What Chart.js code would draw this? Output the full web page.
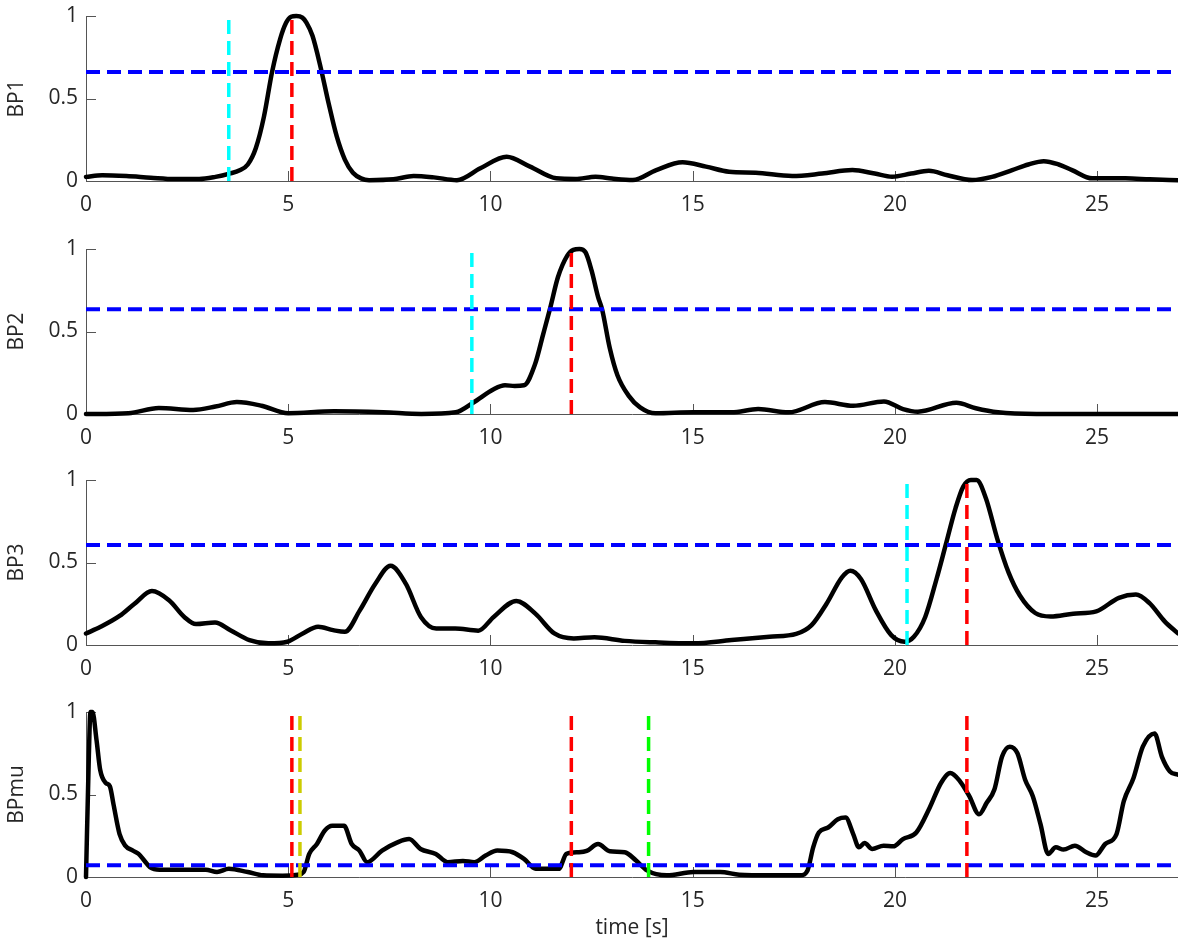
<!DOCTYPE html>
<html>
<head>
<meta charset="utf-8">
<script src="https://cdn.jsdelivr.net/npm/chart.js@4.4.1/dist/chart.umd.min.js"></script>
<style>
html,body{margin:0;padding:0;background:#fff;width:1178px;height:942px;overflow:hidden}
.p{position:absolute;left:0;width:1178px}
</style>
</head>
<body>
<div class="p" style="top:0;height:232px"><canvas id="c0"></canvas></div>
<div class="p" style="top:233px;height:232px"><canvas id="c1"></canvas></div>
<div class="p" style="top:464px;height:232px"><canvas id="c2"></canvas></div>
<div class="p" style="top:696px;height:246px"><canvas id="c3"></canvas></div>
<script>
// ---------- data ----------
const xTickValues = [0, 5, 10, 15, 20, 25];
const yTickValues = [0, 0.5, 1];
const xMin = 0, xMax = 27;
const panelLabels = ['BP1', 'BP2', 'BP3', 'BPmu'];
const xAxisTitle = 'time [s]';

const bp1Time   = [0,0.4,1.0,1.6,2.2,2.8,3.2,3.55,3.8,4.0,4.2,4.4,4.6,4.8,4.95,5.07,5.2,5.35,5.45,5.6,5.8,6.0,6.2,6.4,6.6,6.8,7.0,7.6,8.1,8.6,9.17,9.75,10.4,10.98,11.63,12.1,12.6,13.0,13.52,14.1,14.75,15.33,15.9,16.56,17.46,18.2,18.95,19.5,19.93,20.4,20.84,21.3,21.91,22.4,22.9,23.3,23.68,24.05,24.38,24.88,25.7,26.3,27];
const bp1Values = [0.025,0.035,0.03,0.02,0.012,0.012,0.025,0.045,0.065,0.1,0.2,0.39,0.66,0.86,0.96,0.995,1.0,0.99,0.96,0.88,0.69,0.47,0.27,0.13,0.05,0.016,0.005,0.01,0.03,0.022,0.005,0.077,0.147,0.087,0.016,0.012,0.026,0.015,0.006,0.066,0.113,0.087,0.056,0.05,0.03,0.045,0.066,0.045,0.026,0.045,0.062,0.035,0.006,0.025,0.066,0.1,0.12,0.1,0.066,0.016,0.016,0.01,0.004];

const bp2Time   = [0,1.05,1.8,2.65,3.2,3.73,4.34,5.0,6.13,7.35,8.29,9.14,9.58,10.08,10.36,10.6,10.83,11.1,11.3,11.48,11.67,11.9,12.05,12.2,12.35,12.5,12.66,12.76,12.95,13.14,13.42,13.7,14.08,15.02,15.96,16.62,17.37,18.27,18.97,19.73,20.2,20.57,21.52,22.0,22.55,23.5,27];
const bp2Values = [0,0.005,0.037,0.025,0.045,0.072,0.05,0.005,0.016,0.01,0,0.01,0.07,0.15,0.174,0.17,0.174,0.3,0.48,0.645,0.83,0.96,0.995,1.0,0.98,0.87,0.71,0.635,0.4,0.235,0.11,0.04,0.004,0.01,0.01,0.03,0.01,0.072,0.05,0.076,0.03,0.014,0.068,0.035,0.01,0,0];

const bp3Time   = [0,0.36,0.83,1.2,1.63,2.06,2.43,2.72,3.19,3.57,4.04,4.51,4.98,5.36,5.74,6.11,6.4,6.77,7.15,7.53,7.91,8.28,8.66,9.13,9.7,10.08,10.64,11.11,11.58,12.06,12.57,13.32,14.08,15.02,15.96,16.9,17.56,17.94,18.31,18.69,18.9,19.16,19.53,19.91,20.24,20.47,20.75,21.03,21.26,21.5,21.69,21.88,22.02,22.25,22.53,22.81,23.09,23.47,23.85,24.41,24.98,25.54,25.96,26.29,26.67,27];
const bp3Values = [0.07,0.11,0.176,0.25,0.327,0.27,0.17,0.127,0.137,0.09,0.03,0.01,0.02,0.07,0.11,0.09,0.08,0.21,0.37,0.48,0.37,0.17,0.1,0.1,0.087,0.17,0.267,0.19,0.07,0.04,0.047,0.025,0.016,0.01,0.03,0.05,0.067,0.12,0.25,0.41,0.45,0.4,0.21,0.06,0.02,0.05,0.17,0.4,0.61,0.83,0.96,1.0,1.0,0.89,0.645,0.44,0.3,0.194,0.173,0.19,0.204,0.286,0.306,0.255,0.143,0.07];

const bpmuTime   = [0,0.07,0.11,0.16,0.26,0.35,0.49,0.59,0.68,0.83,0.97,1.16,1.3,1.44,1.58,1.82,2.39,2.96,3.24,3.53,4.0,4.38,4.86,5.24,5.38,5.52,5.71,5.9,6.09,6.38,6.57,6.76,6.95,7.32,7.7,7.99,8.27,8.65,8.94,9.32,9.6,9.88,10.17,10.55,10.83,11.12,11.5,11.69,11.88,12.19,12.38,12.66,12.95,13.32,13.6,13.87,14.36,15.02,15.68,16.15,16.9,17.66,17.84,17.98,18.12,18.35,18.59,18.78,18.97,19.11,19.25,19.44,19.72,19.96,20.2,20.53,20.86,21.14,21.37,21.61,21.84,22.08,22.27,22.46,22.65,22.84,23.03,23.22,23.41,23.6,23.79,23.98,24.17,24.45,24.73,24.96,25.2,25.48,25.66,25.9,26.13,26.42,26.6,26.8,27];
const bpmuValues = [0,0.73,1.0,1.0,0.83,0.65,0.57,0.55,0.44,0.26,0.19,0.16,0.14,0.1,0.06,0.044,0.044,0.044,0.03,0.05,0.03,0.01,0.008,0.014,0.03,0.14,0.2,0.28,0.31,0.31,0.2,0.16,0.09,0.16,0.21,0.23,0.17,0.14,0.09,0.097,0.09,0.13,0.16,0.15,0.11,0.05,0.05,0.05,0.14,0.15,0.158,0.2,0.156,0.15,0.1,0.04,0.01,0.03,0.03,0.014,0.01,0.01,0.04,0.18,0.27,0.3,0.35,0.36,0.26,0.18,0.206,0.17,0.19,0.186,0.23,0.27,0.42,0.57,0.63,0.58,0.49,0.38,0.45,0.53,0.73,0.79,0.75,0.59,0.49,0.32,0.14,0.18,0.166,0.19,0.15,0.13,0.2,0.26,0.46,0.6,0.79,0.87,0.73,0.64,0.62];

const thresholds = [0.661, 0.635, 0.606, 0.071];

// vertical markers
const onsetTimes  = [3.53, 9.54, 20.3];   // cyan, panels 1-3
const peakTimes   = [5.09, 12.0, 21.78];  // red, panels 1-3 (also in BPmu)
const bpmuYellowTimes = [5.29];
const bpmuGreenTimes  = [13.91];

// ---------- styles ----------
const FONT = "'Open Sans', 'Noto Sans', sans-serif";
const axisColor = '#555555';
const textColor = '#262626';
const dash = [14, 7];
const AREA_TOP = 16, AREA_H = 165;

const inwardTicks = {
  id: 'inwardTicks',
  beforeDatasetsDraw(chart) {
    const {ctx, chartArea: a, scales: {x, y}} = chart;
    ctx.save();
    ctx.strokeStyle = axisColor;
    ctx.lineWidth = 1;
    ctx.beginPath();
    x.ticks.forEach(t => {
      const px = Math.round(x.getPixelForValue(t.value)) + 0.5;
      ctx.moveTo(px, a.bottom); ctx.lineTo(px, a.bottom - 10);
    });
    y.ticks.forEach(t => {
      const py = Math.round(y.getPixelForValue(t.value)) + 0.5;
      ctx.moveTo(a.left, py); ctx.lineTo(a.left + 10, py);
    });
    ctx.stroke();
    ctx.restore();
  }
};

function pts(ts, vs) { return ts.map((t, i) => ({x: t, y: vs[i]})); }
function vline(t, color) {
  return {data: [{x: t, y: 0}, {x: t, y: 1}], borderColor: color, borderWidth: 3.5,
          borderDash: dash, pointRadius: 0, clip: false, order: 0, tension: 0};
}

function makeChart(idx, time, values, markers, canvasH, withTitle) {
  const datasets = [
    {data: pts(time, values), borderColor: '#000', borderWidth: 4.5, pointRadius: 0,
     cubicInterpolationMode: 'monotone', clip: false, order: 10, borderJoinStyle: 'round', borderCapStyle: 'round'},
    {data: [{x: xMin, y: thresholds[idx]}, {x: xMax, y: thresholds[idx]}], borderColor: '#0000ff',
     borderWidth: 4, borderDash: dash, pointRadius: 0, clip: false, order: 5}
  ];
  markers.forEach(m => datasets.push(vline(m[0], m[1])));
  new Chart(document.getElementById('c' + idx), {
    type: 'line',
    data: {datasets},
    plugins: [inwardTicks],
    options: {
      responsive: true, maintainAspectRatio: false, animation: false, events: [],
      layout: {padding: {top: AREA_TOP, right: 0, left: 0, bottom: 0}},
      plugins: {legend: {display: false}, tooltip: {enabled: false}},
      scales: {
        x: {
          type: 'linear', min: xMin, max: xMax,
          afterBuildTicks: s => { s.ticks = xTickValues.map(v => ({value: v})); },
          afterFit: s => { s.height = canvasH - AREA_TOP - AREA_H; s.paddingLeft = 0; s.paddingRight = 0; },
          grid: {display: false, drawTicks: false},
          border: {display: true, color: axisColor, width: 1},
          ticks: {padding: 11, color: textColor, font: {family: FONT, size: 21}, maxRotation: 0,
                  callback: v => String(v)},
          title: {display: withTitle, text: xAxisTitle, color: textColor,
                  font: {family: FONT, size: 21}, padding: {top: 0, bottom: 1}}
        },
        y: {
          type: 'linear', min: 0, max: 1,
          afterBuildTicks: s => { s.ticks = yTickValues.map(v => ({value: v})); },
          afterFit: s => { s.width = 86; s.paddingTop = 0; s.paddingBottom = 0; },
          grid: {display: false, drawTicks: false},
          border: {display: true, color: axisColor, width: 1},
          ticks: {padding: 8, color: textColor, font: {family: FONT, size: 21},
                  callback: v => String(v)},
          title: {display: true, text: panelLabels[idx], color: textColor,
                  font: {family: FONT, size: 21}, padding: {top: 4, bottom: 0}}
        }
      }
    }
  });
}

makeChart(0, bp1Time, bp1Values, [[onsetTimes[0], '#00ffff'], [peakTimes[0], '#ff0000']], 232, false);
makeChart(1, bp2Time, bp2Values, [[onsetTimes[1], '#00ffff'], [peakTimes[1], '#ff0000']], 232, false);
makeChart(2, bp3Time, bp3Values, [[onsetTimes[2], '#00ffff'], [peakTimes[2], '#ff0000']], 232, false);
makeChart(3, bpmuTime, bpmuValues,
  [[peakTimes[0], '#ff0000'], [bpmuYellowTimes[0], '#cccc00'], [peakTimes[1], '#ff0000'],
   [bpmuGreenTimes[0], '#00ff00'], [peakTimes[2], '#ff0000']], 246, true);
</script>
</body>
</html>
